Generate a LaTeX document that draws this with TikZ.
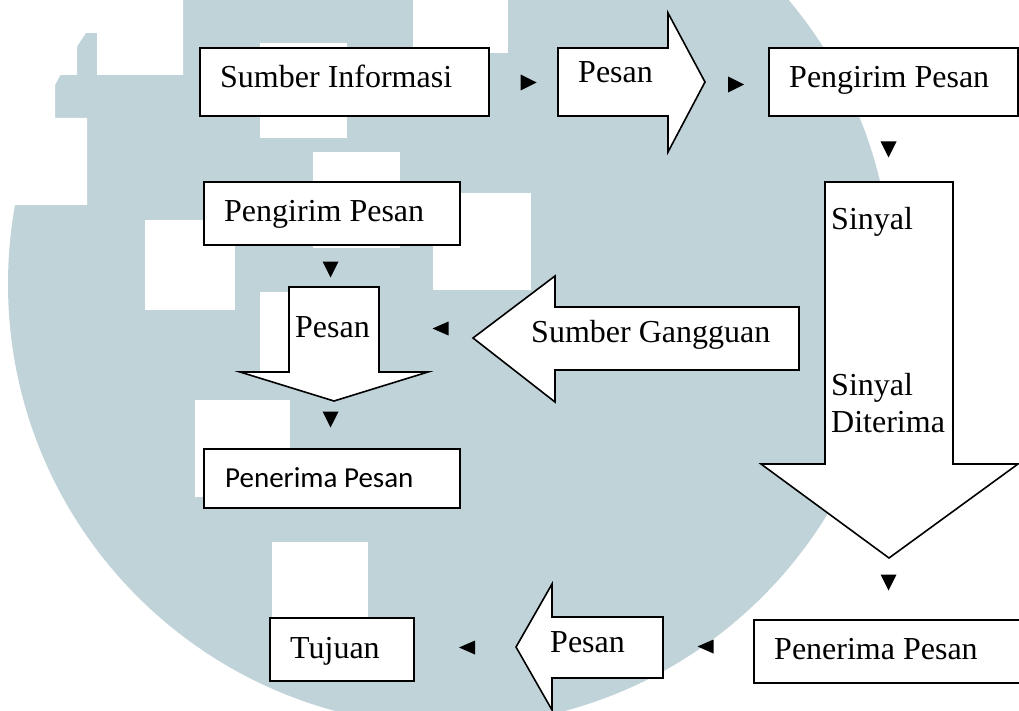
\documentclass[tikz,border=0pt]{standalone}
\usepackage{fontspec}
\setmainfont{Liberation Serif}
\newfontfamily\calibrifont{Carlito}
\definecolor{wm}{RGB}{192,211,217}
\begin{document}
\begin{tikzpicture}[x=1pt,y=-1pt,
  box/.style={draw=black,fill=white,line width=1.6pt,inner sep=0pt,anchor=north west},
  barrow/.style={draw=black,fill=white,line width=1.6pt,line join=miter},
  lbl/.style={inner sep=0pt,anchor=base west,font=\fontsize{32}{37}\selectfont},
  sanslbl/.style={lbl,font=\calibrifont\fontsize{29}{35}\selectfont},
  marker/.style={fill=black,draw=none}]
\useasboundingbox (0,0) rectangle (1019,711);

% watermark in the background
\begin{scope}
  \clip (0,0) rectangle (1019,711);
  \fill[white] (0,0) rectangle (1019,711);
  \fill[wm] (450,284) circle (442);
  \fill[white] (0,0) -- (183,0) -- (183,75) -- (97,75) -- (97,33) -- (77,33)
    -- (77,75) -- (55,75) -- (55,118) -- (87,118) -- (87,205) -- (0,205) -- cycle;
  \fill[white] (413,0) rectangle (508,53);
  \fill[white] (260,43) rectangle (347,138);
  \fill[white] (313,152) rectangle (400,248);
  \fill[white] (145,220) rectangle (235,310);
  \fill[white] (433,193) rectangle (531,290);
  \fill[white] (260,292) rectangle (350,375);
  \fill[white] (195,400) rectangle (290,497);
  \fill[white] (272,542) rectangle (368,640);
\end{scope}

% block arrows
\draw[barrow] (558,48) -- (668,48) -- (668,13) -- (705,82) -- (668,152)
  -- (668,116) -- (558,116) -- cycle;
\draw[barrow] (825,182) -- (953,182) -- (953,464) -- (1018,464) -- (889,558)
  -- (761,464) -- (825,464) -- cycle;
\draw[barrow] (799,307) -- (799,370) -- (555,370) -- (555,402) -- (473,338)
  -- (555,276) -- (555,307) -- cycle;
\draw[barrow] (289,287) -- (379,287) -- (379,372) -- (428,372) -- (334,401)
  -- (240,372) -- (289,372) -- cycle;
\draw[barrow] (663,617) -- (663,678) -- (552,678) -- (552,710) -- (516,647)
  -- (552,584) -- (552,617) -- cycle;

% boxes
\node[box,minimum width=289pt,minimum height=68pt] (sumberinfo) at (199,47) {};
\node[box,minimum width=249pt,minimum height=68pt] (kirimA) at (768,47) {};
\node[box,minimum width=256pt,minimum height=63pt] (kirimB) at (203,181) {};
\node[box,minimum width=256pt,minimum height=59pt] (terimaA) at (203,448) {};
\node[box,minimum width=272pt,minimum height=63pt] (terimaB) at (753,619) {};
\node[box,minimum width=144pt,minimum height=63pt] (tujuan) at (269,617) {};

% labels
\node[lbl] (tSumberInfo) at (220,88) {Sumber Informasi};
\node[lbl] (tPesanA) at (578,83) {Pesan};
\node[lbl] (tKirimA) at (789,88) {Pengirim Pesan};
\node[lbl] (tKirimB) at (224,222) {Pengirim Pesan};
\node[lbl] (tSinyal) at (831,230) {Sinyal};
\node[lbl] (tGangguan) at (531,342) {Sumber Gangguan};
\node[lbl] (tPesanB) at (295,337) {Pesan};
\node[lbl] (tSinyalB) at (831,395) {Sinyal};
\node[lbl] (tDiterima) at (831,432) {Diterima};
\node[sanslbl] (tTerimaA) at (225,487) {Penerima Pesan};
\node[lbl] (tTerimaB) at (774,659) {Penerima Pesan};
\node[lbl] (tPesanC) at (550,652) {Pesan};
\node[lbl] (tTujuan) at (290,658) {Tujuan};

% small direction markers (centres)
\coordinate (m1) at (528.5,82.5);
\coordinate (m2) at (736,84.5);
\coordinate (m3) at (888.5,149.5);
\coordinate (m4) at (330.5,269.5);
\coordinate (m5) at (440.5,328.5);
\coordinate (m6) at (330.5,419.5);
\coordinate (m7) at (888.5,582.5);
\coordinate (m8) at (705.5,646.5);
\coordinate (m9) at (467,647.5);
% pointing right
\foreach \m in {m1,m2}
  \fill[marker] (\m) ++(-8,-8) -- ++(16,8) -- ++(-16,8) -- cycle;
% pointing down
\foreach \m in {m3,m4,m6,m7}
  \fill[marker] (\m) ++(-8,-8) -- ++(16,0) -- ++(-8,16) -- cycle;
% pointing left
\foreach \m in {m5,m8,m9}
  \fill[marker] (\m) ++(8,-7) -- ++(0,14) -- ++(-16,-7) -- cycle;
\end{tikzpicture}
\end{document}
